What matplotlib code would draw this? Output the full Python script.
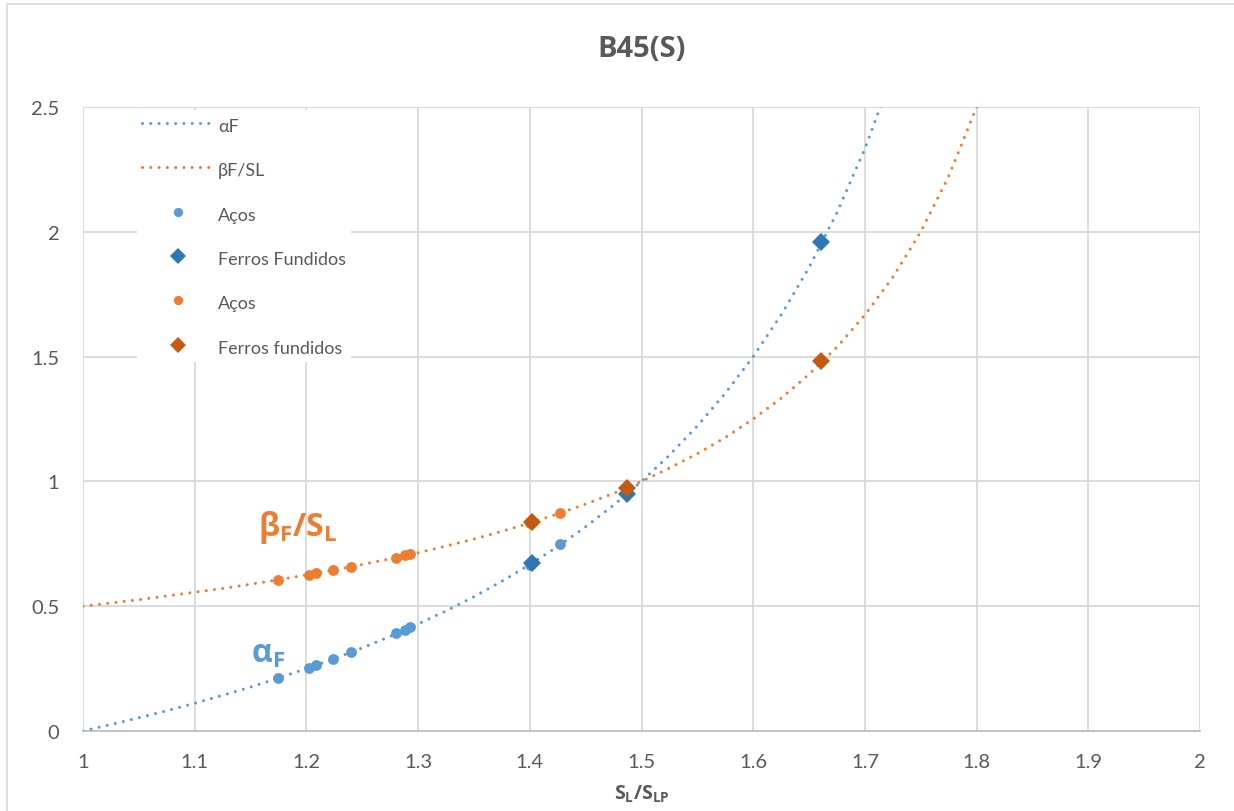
import matplotlib
matplotlib.use('Agg')
import matplotlib.pyplot as plt
from matplotlib.patches import Rectangle

plt.rcParams['font.family'] = ['Lato', 'DejaVu Sans']
plt.rcParams['mathtext.fontset'] = 'custom'
plt.rcParams['mathtext.rm'] = 'Open Sans:bold'
plt.rcParams['mathtext.it'] = 'Open Sans:bold'
plt.rcParams['mathtext.bf'] = 'Open Sans:bold'

# linhas de tendência
curve_x = [1.000, 1.025, 1.050, 1.075, 1.100, 1.125, 1.150, 1.175, 1.200, 1.225,
           1.250, 1.275, 1.300, 1.325, 1.350, 1.375, 1.400, 1.425, 1.450, 1.475,
           1.500, 1.525, 1.550, 1.575, 1.600, 1.625, 1.650, 1.675, 1.700, 1.725,
           1.750, 1.775, 1.800, 1.810]
alpha_curve = [0.000, 0.026, 0.053, 0.081, 0.111, 0.143, 0.176, 0.212, 0.250, 0.290,
               0.333, 0.379, 0.429, 0.481, 0.538, 0.600, 0.667, 0.739, 0.818, 0.905,
               1.000, 1.105, 1.222, 1.353, 1.500, 1.667, 1.857, 2.077, 2.333, 2.636,
               3.000, 3.444, 4.000, 4.263]
beta_curve = [0.500, 0.513, 0.526, 0.541, 0.556, 0.571, 0.588, 0.606, 0.625, 0.645,
              0.667, 0.690, 0.714, 0.741, 0.769, 0.800, 0.833, 0.870, 0.909, 0.952,
              1.000, 1.053, 1.111, 1.176, 1.250, 1.333, 1.429, 1.538, 1.667, 1.818,
              2.000, 2.222, 2.500, 2.632]

# pontos medidos
acos_x = [1.175, 1.202, 1.209, 1.224, 1.240, 1.280, 1.288, 1.293, 1.400, 1.427]
acos_alpha = [0.212, 0.253, 0.264, 0.289, 0.315, 0.392, 0.405, 0.417, 0.667, 0.748]
acos_beta = [0.605, 0.627, 0.632, 0.644, 0.659, 0.695, 0.704, 0.708, 0.833, 0.875]

ff_x = [1.402, 1.487, 1.661]
ff_alpha = [0.672, 0.951, 1.961]
ff_beta = [0.837, 0.975, 1.481]

x_ticks = [1, 1.1, 1.2, 1.3, 1.4, 1.5, 1.6, 1.7, 1.8, 1.9, 2]
x_labels = ['1', '1.1', '1.2', '1.3', '1.4', '1.5', '1.6', '1.7', '1.8', '1.9', '2']
y_ticks = [0, 0.5, 1, 1.5, 2, 2.5]
y_labels = ['0', '0.5', '1', '1.5', '2', '2.5']

blue = '#5B9BD5'
orange = '#ED7D31'
dark_blue = '#2E75B6'
dark_orange = '#C55A11'
gray_txt = '#595959'
grid_c = '#D9D9D9'

fig = plt.figure(figsize=(12.34, 8.12), dpi=100)
fig.patches.append(Rectangle((7 / 1234, -0.1), 1.2, 1.1 - 5 / 812, transform=fig.transFigure,
                             fill=False, edgecolor=grid_c, linewidth=1.2))
ax = fig.add_axes([83 / 1234, 80 / 812, 1117 / 1234, 624 / 812])

dots = (0, (0.01, 2.7))
ax.plot(curve_x, alpha_curve, color=blue, lw=2.2, linestyle=dots,
        dash_capstyle='round', label='αF', zorder=3)
ax.plot(curve_x, beta_curve, color=orange, lw=2.2, linestyle=dots,
        dash_capstyle='round', label='βF/SL', zorder=3)
ax.plot(acos_x, acos_alpha, 'o', color=blue, ms=7.8, mew=0, label='Aços', zorder=4)
ax.plot(ff_x, ff_alpha, 'D', color=dark_blue, ms=9.2, mew=0, label='Ferros Fundidos', zorder=5)
ax.plot(acos_x, acos_beta, 'o', color=orange, ms=7.8, mew=0, label='Aços', zorder=4)
ax.plot(ff_x, ff_beta, 'D', color=dark_orange, ms=9.2, mew=0, label='Ferros fundidos', zorder=5)

ax.set_xlim(1, 2)
ax.set_ylim(0, 2.5)
ax.set_xticks(x_ticks)
ax.set_xticklabels(x_labels)
ax.set_yticks(y_ticks)
ax.set_yticklabels(y_labels)
ax.grid(True, color=grid_c, linewidth=1.3)
ax.set_axisbelow(True)
for side in ['top', 'right', 'left']:
    ax.spines[side].set_visible(False)
ax.spines['bottom'].set_color('#BFBFBF')
ax.spines['bottom'].set_linewidth(1.3)
ax.tick_params(length=0, labelsize=14.5, colors=gray_txt, pad=16)
ax.tick_params(axis='y', pad=17)

ax.set_title('B45(S)', fontsize=21, fontweight='bold', color=gray_txt, pad=37,
             family=['Open Sans', 'DejaVu Sans'])
ax.set_xlabel(r'$\mathrm{S_L/S_{LP}}$', fontsize=14, color=gray_txt, labelpad=9)

ax.text(1.157, 0.82, r'$\mathrm{β_F/S_L}$', fontsize=23, color=orange, ha='left', va='center')
ax.text(1.150, 0.31, r'$\mathrm{α_F}$', fontsize=23, color=blue, ha='left', va='center')

leg = ax.legend(loc='upper left', bbox_to_anchor=(0.040, 1.01), frameon=True,
                facecolor='white', edgecolor='none', framealpha=1, fancybox=False,
                fontsize=13, labelspacing=1.4, handlelength=4.0, handleheight=1.25,
                handletextpad=0.2, borderpad=0.3, labelcolor=gray_txt, markerscale=0.85)
leg.set_zorder(6)

fig.savefig('out.png', dpi=100)
